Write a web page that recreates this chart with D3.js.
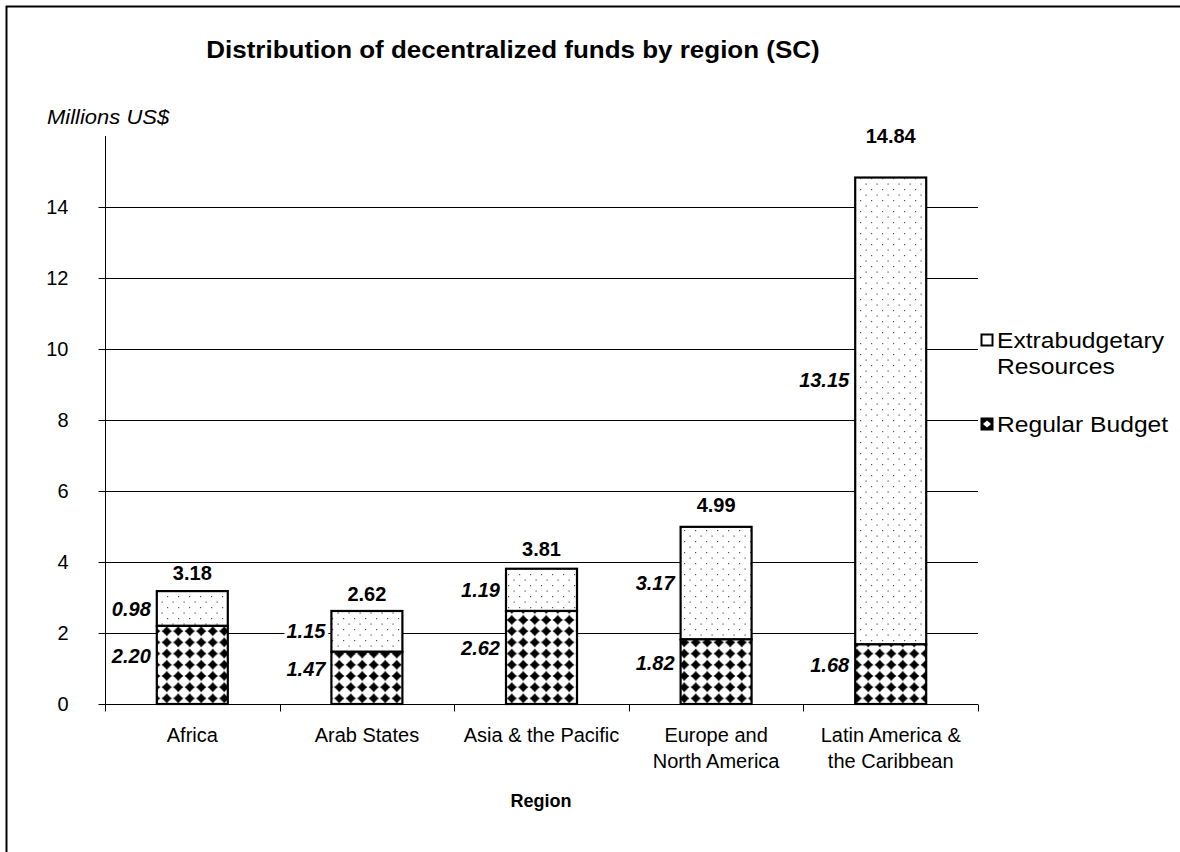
<!DOCTYPE html>
<html>
<head>
<meta charset="utf-8">
<script src="https://cdn.jsdelivr.net/npm/d3@7"></script>
<style>
  body { margin: 0; background: #fff; }
  text { font-family: "Liberation Sans", Arial, sans-serif; fill: #000; }
</style>
</head>
<body>
<div id="app"></div>
<script>
// Chart data.
var regions = [["Africa"], ["Arab States"], ["Asia & the Pacific"],
	["Europe and", "North America"], ["Latin America &", "the Caribbean"]];
var regularBudget = [2.20, 1.47, 2.62, 1.82, 1.68];
var extraBudget = [0.98, 1.15, 1.19, 3.17, 13.15];
var totals = [3.18, 2.62, 3.81, 4.99, 14.84];
var yTicks = [0, 2, 4, 6, 8, 10, 12, 14];

var width = 1180, height = 852;
var x0 = 105, x1 = 978, yBase = 704, yTop = 136;

// The original glyphs are a little wider than Liberation Sans: stretch text about its anchor.
function stretch (sel, k)
{
	sel.each(function () {
		var t = d3.select(this), ax = +t.attr("x"), ay = +t.attr("y");
		t.attr("transform", "translate(" + ax + "," + ay + ") scale(" + k + ",1) translate(" + (-ax) + "," + (-ay) + ")");
	});
	return sel;
}

var vis = d3.select("#app").append("svg")
	.attr("width", width).attr("height", height);

// Fill patterns: dots for extrabudgetary, black stars for regular budget.
var defs = vis.append("defs");
var dots = defs.append("pattern").attr("id", "dots")
	.attr("patternUnits", "userSpaceOnUse").attr("width", 11).attr("height", 11);
dots.append("rect").attr("width", 11).attr("height", 11).attr("fill", "#fff");
[[2, 2], [7.5, 7.5]].forEach(function (p) {
	dots.append("rect").attr("x", p[0]).attr("y", p[1])
		.attr("width", 1.2).attr("height", 1.2).attr("fill", "#555");
});
var stars = defs.append("pattern").attr("id", "stars")
	.attr("patternUnits", "userSpaceOnUse").attr("width", 11.5).attr("height", 11.2)
	.attr("x", 0).attr("y", yBase);
stars.append("rect").attr("width", 11.5).attr("height", 11.2).attr("fill", "#fff");
stars.append("path").attr("d", "M5.75,0.2Q6.6,4.7,11.3,5.6Q6.6,6.5,5.75,11Q4.9,6.5,0.2,5.6Q4.9,4.7,5.75,0.2Z")
	.attr("fill", "#000");
stars.append("path").attr("d", "M5.75,1L10.5,5.6L5.75,10.2L1,5.6Z").attr("fill", "#000");

// Outer frame.
vis.append("rect").attr("x", 6.5).attr("y", 6.5)
	.attr("width", width + 10).attr("height", height + 10)
	.attr("fill", "none").attr("stroke", "#000").attr("stroke-width", 2);

var x = d3.scaleBand().domain(d3.range(regions.length)).range([x0, x1]);
var y = d3.scaleLinear().domain([0, 16]).range([yBase, yTop]);
var barW = 71;

// Grid lines.
vis.append("g").selectAll("line").data(yTicks.slice(1)).join("line")
	.attr("x1", x0).attr("x2", x1)
	.attr("y1", function (d) { return Math.round(y(d)) + 0.5; })
	.attr("y2", function (d) { return Math.round(y(d)) + 0.5; })
	.attr("stroke", "#000").attr("stroke-width", 1);

// Axes.
var yAxis = vis.append("g").attr("transform", "translate(" + (x0 + 0.5) + ",0)")
	.call(d3.axisLeft(y).tickValues(yTicks).tickSize(7).tickPadding(30).tickFormat(d3.format("d")));
yAxis.select(".domain").attr("d", "M0," + yTop + "V" + yBase);
yAxis.selectAll("text").style("font-size", "20px");

var xAxis = vis.append("g").attr("transform", "translate(0," + (yBase + 0.5) + ")");
xAxis.append("line").attr("x1", x0).attr("x2", x1).attr("stroke", "#000");
xAxis.selectAll("line.tk").data(d3.range(regions.length + 1)).join("line")
	.attr("class", "tk")
	.attr("x1", function (i) { return Math.round(x0 + i * x.step()) + 0.5; })
	.attr("x2", function (i) { return Math.round(x0 + i * x.step()) + 0.5; })
	.attr("y1", 0).attr("y2", 7).attr("stroke", "#000");
xAxis.selectAll("text").data(regions).join("text")
	.attr("x", function (d, i) { return x(i) + x.bandwidth() / 2; })
	.attr("y", 37)
	.attr("text-anchor", "middle").style("font-size", "20px")
	.selectAll("tspan").data(function (d) { return d; }).join("tspan")
	.attr("x", function () { return d3.select(this.parentNode).attr("x"); })
	.attr("dy", function (d, i) { return i ? 26 : 0; })
	.text(function (d) { return d; });

// Bars.
var bars = vis.append("g");
regions.forEach(function (r, i) {
	var bx = x(i) + x.bandwidth() / 2 - barW / 2;
	var r0 = regularBudget[i], e0 = extraBudget[i];
	bars.append("rect").attr("x", bx).attr("y", y(r0 + e0))
		.attr("width", barW).attr("height", y(r0) - y(r0 + e0))
		.attr("fill", "url(#dots)").attr("stroke", "#000").attr("stroke-width", 2.2);
	bars.append("rect").attr("x", bx).attr("y", y(r0))
		.attr("width", barW).attr("height", y(0) - y(r0))
		.attr("fill", "url(#stars)").attr("stroke", "#000").attr("stroke-width", 2.2);

	// Segment labels to the left of the bar, totals above it.
	[[r0, y(r0 / 2) - 9], [e0, y(r0 + e0 / 2) - Math.max(0, e0 - 4) * 3.4]].forEach(function (l) {
		var t = bars.append("text").attr("x", bx - 6).attr("y", l[1]).attr("dy", "0.35em")
			.attr("text-anchor", "end")
			.style("font-size", "20px").style("font-weight", "bold").style("font-style", "italic")
			.text(l[0].toFixed(2));
		var bb = t.node().getBBox();
		bars.insert("rect", function () { return t.node(); })
			.attr("x", bb.x - 2).attr("y", bb.y + 3).attr("width", bb.width + 4).attr("height", bb.height - 6)
			.attr("fill", "#fff");
	});
	bars.append("text").attr("x", bx + barW / 2)
		.attr("y", y(totals[i]) - 12 - 2 * totals[i]).attr("dy", "0.35em")
		.attr("text-anchor", "middle")
		.style("font-size", "20px").style("font-weight", "bold")
		.text(totals[i].toFixed(2));
});

// Legend.
var legend = vis.append("g");
legend.append("rect").attr("x", 981.5).attr("y", 334.5).attr("width", 11).attr("height", 11)
	.attr("fill", "#fff").attr("stroke", "#000").attr("stroke-width", 2);
stretch(legend.append("text").attr("x", 997).attr("y", 348).style("font-size", "22px").text("Extrabudgetary"), 1.12);
stretch(legend.append("text").attr("x", 997).attr("y", 374).style("font-size", "22px").text("Resources"), 1.12);
legend.append("rect").attr("x", 981.5).attr("y", 418.5).attr("width", 11).attr("height", 11)
	.attr("fill", "#000").attr("stroke", "#000").attr("stroke-width", 2);
legend.append("path").attr("d", "M987,420.5L991,424L987,427.5L983,424Z").attr("fill", "#fff");
stretch(legend.append("text").attr("x", 997).attr("y", 432).style("font-size", "22px").text("Regular Budget"), 1.12);

// Titles.
stretch(vis.append("text").attr("x", 513).attr("y", 58).attr("text-anchor", "middle")
	.style("font-size", "23px").style("font-weight", "bold")
	.text("Distribution of decentralized funds by region (SC)"), 1.13);
stretch(vis.append("text").attr("x", 47).attr("y", 124)
	.style("font-size", "20px").style("font-style", "italic").text("Millions US$"), 1.1);
vis.append("text").attr("x", 541).attr("y", 807).attr("text-anchor", "middle")
	.style("font-size", "18px").style("font-weight", "bold").text("Region");
</script>
</body>
</html>
